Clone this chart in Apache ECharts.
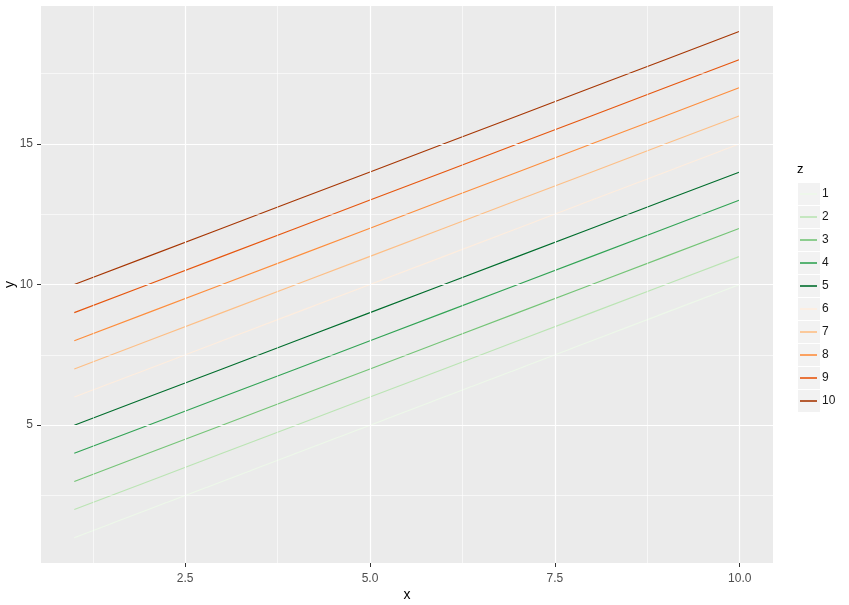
<!DOCTYPE html>
<html>
<head>
<meta charset="utf-8">
<script src="https://cdn.jsdelivr.net/npm/echarts@6/dist/echarts.min.js"></script>
<style>
  html, body { margin: 0; padding: 0; background: #fff; }
  #chart { width: 849px; height: 605px; }
</style>
</head>
<body>
<div id="chart"></div>
<script>
// x values shared by every line
var xs = [1, 2, 3, 4, 5, 6, 7, 8, 9, 10];

// y for each level of z
var y1 = [1, 2, 3, 4, 5, 6, 7, 8, 9, 10];
var y2 = [2, 3, 4, 5, 6, 7, 8, 9, 10, 11];
var y3 = [3, 4, 5, 6, 7, 8, 9, 10, 11, 12];
var y4 = [4, 5, 6, 7, 8, 9, 10, 11, 12, 13];
var y5 = [5, 6, 7, 8, 9, 10, 11, 12, 13, 14];
var y6 = [6, 7, 8, 9, 10, 11, 12, 13, 14, 15];
var y7 = [7, 8, 9, 10, 11, 12, 13, 14, 15, 16];
var y8 = [8, 9, 10, 11, 12, 13, 14, 15, 16, 17];
var y9 = [9, 10, 11, 12, 13, 14, 15, 16, 17, 18];
var y10 = [10, 11, 12, 13, 14, 15, 16, 17, 18, 19];

var zLevels = ["1", "2", "3", "4", "5", "6", "7", "8", "9", "10"];
var allY = [y1, y2, y3, y4, y5, y6, y7, y8, y9, y10];

// Greens(5) then Oranges(5)
var colors = ["#EDF8E9", "#BAE4B3", "#74C476", "#31A354", "#006D2C",
              "#FEEDDE", "#FDBE85", "#FD8D3C", "#E6550D", "#A63603"];

// tick labels / grid breaks
var xMajor = [2.5, 5, 7.5, 10];
var xMinor = [1.25, 3.75, 6.25, 8.75];
var yMajor = [5, 10, 15];
var yMinor = [2.5, 7.5, 12.5, 17.5];

var font = "Liberation Sans, Arial, sans-serif";
var chart = echarts.init(document.getElementById("chart"), null, { renderer: "canvas" });

function pairs(xv, yv) {
  var out = [];
  for (var i = 0; i < xv.length; i++) out.push([xv[i], yv[i]]);
  return out;
}

var gridLines = [];
xMinor.forEach(function (v) { gridLines.push({ xAxis: v, lineStyle: { width: 0.6 } }); });
yMinor.forEach(function (v) { gridLines.push({ yAxis: v, lineStyle: { width: 0.6 } }); });
xMajor.forEach(function (v) { gridLines.push({ xAxis: v, lineStyle: { width: 1.2 } }); });
yMajor.forEach(function (v) { gridLines.push({ yAxis: v, lineStyle: { width: 1.2 } }); });

var series = [{
  // panel grid lines
  type: "line",
  data: [],
  z: 1,
  silent: true,
  markLine: {
    silent: true,
    symbol: "none",
    animation: false,
    label: { show: false },
    lineStyle: { color: "#ffffff", type: "solid" },
    data: gridLines
  }
}];
for (var i = 0; i < zLevels.length; i++) {
  series.push({
    name: zLevels[i],
    type: "line",
    data: pairs(xs, allY[i]),
    symbol: "none",
    z: 3,
    animation: false,
    lineStyle: { color: colors[i], width: 1.1 },
    itemStyle: { color: colors[i] }
  });
}

// grey legend key backgrounds
var keyBg = [];
for (var k = 0; k < zLevels.length; k++) {
  keyBg.push({
    type: "rect",
    left: 798,
    top: 183 + k * 23,
    z: -1,
    shape: { width: 22, height: 22 },
    style: { fill: "#F2F2F2" }
  });
}

var option = {
  backgroundColor: "#ffffff",
  animation: false,
  title: {
    text: "z",
    left: 797,
    top: 163,
    padding: 0,
    textStyle: { fontFamily: font, fontSize: 13, fontWeight: "normal", color: "#000" }
  },
  grid: {
    left: 41, right: 76, top: 6, bottom: 42,
    outerBoundsMode: "none",
    containLabel: false,
    show: true, backgroundColor: "#EBEBEB", borderWidth: 0
  },
  legend: {
    orient: "vertical",
    left: 800,
    top: 183,
    padding: 0,
    icon: "rect",
    itemWidth: 17,
    itemHeight: 1.6,
    itemGap: 1,
    itemTextGap: 10,
    data: zLevels,
    textStyle: { fontFamily: font, fontSize: 12, color: "#1A1A1A", lineHeight: 22 }
  },
  graphic: keyBg,
  xAxis: {
    type: "value",
    min: 0.55,
    max: 10.45,
    name: "x",
    nameLocation: "middle",
    nameGap: 25,
    nameMoveOverlap: false,
    nameTextStyle: { fontFamily: font, fontSize: 14, color: "#000" },
    axisLine: { show: false },
    splitLine: { show: false },
    axisTick: { show: true, customValues: xMajor, length: 4, lineStyle: { color: "#333" } },
    axisLabel: {
      customValues: xMajor,
      margin: 10,
      fontFamily: font, fontSize: 12, color: "#4D4D4D",
      formatter: function (v) { return v.toFixed(1); }
    }
  },
  yAxis: {
    type: "value",
    min: 0.1,
    max: 19.9,
    name: "y",
    nameLocation: "middle",
    nameGap: 24,
    nameMoveOverlap: false,
    nameRotate: 90,
    nameTextStyle: { fontFamily: font, fontSize: 14, color: "#000" },
    axisLine: { show: false },
    splitLine: { show: false },
    axisTick: { show: true, customValues: yMajor, length: 4, lineStyle: { color: "#333" } },
    axisLabel: {
      customValues: yMajor,
      margin: 8,
      fontFamily: font, fontSize: 12, color: "#4D4D4D"
    }
  },
  series: series
};
chart.setOption(option);
</script>
</body>
</html>
